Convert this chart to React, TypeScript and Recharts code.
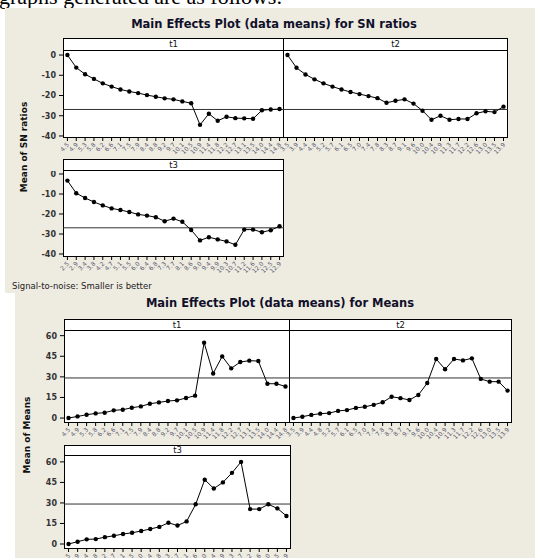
import React from 'react';
import { LineChart, Line, XAxis, YAxis, ReferenceLine } from 'recharts';

// Factor levels (x tick labels) for each panel
const t1Levels = ['4.5', '4.9', '5.3', '5.8', '6.2', '6.6', '7.1', '7.5', '7.9', '8.4', '8.8', '9.2', '9.7', '10.1', '10.5', '10.9', '11.4', '11.8', '12.2', '12.7', '13.1', '13.5', '14.0', '14.4', '14.8'];
const t2Levels = ['3.5', '3.9', '4.4', '4.8', '5.2', '5.7', '6.1', '6.5', '7.0', '7.4', '7.8', '8.3', '8.7', '9.1', '9.6', '10.0', '10.4', '10.9', '11.3', '11.7', '12.2', '12.6', '13.0', '13.5', '13.9'];
const t3Levels = ['2.5', '2.9', '3.4', '3.8', '4.2', '4.7', '5.1', '5.5', '6.0', '6.4', '6.8', '7.3', '7.7', '8.1', '8.6', '9.0', '9.4', '9.9', '10.3', '10.7', '11.2', '11.6', '12.0', '12.5', '12.9'];

// Mean of SN ratios per level
const snT1 = [0, -6.2, -9.5, -11.8, -14, -15.6, -17, -18, -18.8, -19.8, -20.6, -21.4, -21.9, -22.9, -23.8, -34.5, -29, -32.5, -30.5, -31.2, -31.3, -31.5, -27.3, -26.9, -26.7];
const snT2 = [0, -6.3, -9.6, -12, -14, -15.6, -17, -18.3, -19.3, -20.3, -21.3, -23.6, -22.6, -21.9, -24, -27.5, -32, -30, -32, -31.6, -31.6, -28.8, -27.8, -28.2, -25.5];
const snT3 = [-3.3, -9.6, -12, -14, -15.7, -17.2, -18, -19, -20.2, -20.8, -21.6, -23.6, -22.3, -23.9, -28, -33.2, -31.6, -32.7, -33.7, -35.4, -27.8, -27.8, -29.1, -28.1, -26.1];

// Mean of means per level
const meanT1 = [0, 1.2, 2.4, 3.4, 3.9, 5.6, 6.1, 7.5, 8.5, 10.4, 11.4, 12.4, 12.9, 14.6, 16.3, 54.9, 32.5, 44.9, 36.2, 40.8, 41.8, 41.5, 25, 25, 23];
const meanT2 = [0, 1, 2.3, 3.2, 3.6, 5.2, 5.8, 7.4, 8.2, 9.6, 11.5, 15.5, 14.5, 13.2, 16.8, 25.5, 43, 35.5, 43, 42, 43.5, 28.5, 26.5, 26.5, 20];
const meanT3 = [0, 1.7, 3.4, 3.6, 5, 6, 7.3, 8.2, 9.5, 11, 12.5, 15.5, 13.5, 16.5, 29, 47, 40.5, 45, 52, 60, 25.5, 25.5, 29, 26, 20.5];

// Grand means (horizontal reference lines)
const snGrandMean = -26.9;
const meanGrandMean = 29.2;

const snTicks = [0, -10, -20, -30, -40];
const meanTicks = [0, 15, 30, 45, 60];

const FONT = '"DejaVu Sans", Verdana, sans-serif';
const BEIGE = '#EEEBE1';

const RotTick = (props: any) => {
  const { x, y, payload } = props;
  return (
    <text
      x={x}
      y={y}
      dy={3}
      transform={`rotate(-45 ${x} ${y})`}
      textAnchor="end"
      fontSize={6}
      fill="#5a5a70"
      fontFamily={FONT}
    >
      {payload.value}
    </text>
  );
};

type PanelProps = {
  x: number;
  y: number;
  w: number;
  headH: number;
  plotH: number;
  label: string;
  levels: string[];
  values: number[];
  domain: [number, number];
  yTicks: number[];
  refValue: number;
  showY: boolean;
};

function Panel({ x, y, w, headH, plotH, label, levels, values, domain, yTicks, refValue, showY }: PanelProps) {
  const data = levels.map((lvl, i) => ({ lvl, v: values[i] }));
  const AX = 40;
  const XH = 22;
  const pad = w / 50;
  return (
    <>
      <div
        style={{
          position: 'absolute',
          left: x,
          top: y,
          width: w,
          height: headH + plotH,
          border: '1px solid #000',
          boxSizing: 'border-box',
          background: '#fff',
        }}
      />
      <div
        style={{
          position: 'absolute',
          left: x,
          top: y,
          width: w,
          height: headH,
          borderBottom: '1px solid #000',
          boxSizing: 'border-box',
          textAlign: 'center',
          fontFamily: FONT,
          fontSize: 8.5,
          lineHeight: `${headH}px`,
          color: '#111',
        }}
      >
        {label}
      </div>
      <div style={{ position: 'absolute', left: x - AX, top: y + headH, width: w + AX, height: plotH + XH }}>
        <LineChart width={w + AX} height={plotH + XH} data={data} margin={{ top: 0, right: 0, bottom: 0, left: 0 }}>
          <XAxis
            dataKey="lvl"
            interval={0}
            padding={{ left: pad, right: pad }}
            axisLine={false}
            tickLine={{ stroke: '#000' }}
            tickSize={3}
            height={XH}
            tick={<RotTick />}
          />
          <YAxis
            width={AX}
            type="number"
            domain={domain}
            ticks={yTicks}
            interval={0}
            allowDataOverflow
            axisLine={false}
            tickLine={showY ? { stroke: '#000' } : false}
            tick={showY ? { fontSize: 8, fontWeight: 'bold', fill: '#333', fontFamily: FONT } : false}
            tickSize={4}
            tickMargin={3}
          />
          <ReferenceLine y={refValue} stroke="#333" strokeWidth={1} />
          <Line
            type="linear"
            dataKey="v"
            stroke="#000"
            strokeWidth={1}
            dot={{ r: 2.2, fill: '#000', stroke: 'none' }}
            activeDot={false}
            isAnimationActive={false}
          />
        </LineChart>
      </div>
    </>
  );
}

const titleStyle: React.CSSProperties = {
  position: 'absolute',
  fontFamily: FONT,
  fontWeight: 'bold',
  fontSize: 11.5,
  color: '#10102a',
  whiteSpace: 'nowrap',
  transform: 'translate(-50%, -50%)',
};

const yLabelStyle: React.CSSProperties = {
  position: 'absolute',
  fontFamily: FONT,
  fontWeight: 'bold',
  fontSize: 9,
  color: '#111',
  whiteSpace: 'nowrap',
  transform: 'translate(-50%, -50%) rotate(-90deg)',
};

export default function App() {
  return (
    <div style={{ position: 'absolute', left: 0, top: 0, width: 535, height: 558, background: '#fff', overflow: 'hidden' }}>
      <div
        style={{
          position: 'absolute',
          left: -1,
          top: -14,
          fontFamily: '"Liberation Serif", serif',
          fontSize: 22,
          lineHeight: '22px',
          color: '#000',
          whiteSpace: 'nowrap',
        }}
      >
        graphs generated are as follows:
      </div>

      {/* SN ratios plot */}
      <div style={{ position: 'absolute', left: 5, top: 8, width: 530, height: 285, background: BEIGE }} />
      <div style={{ ...titleStyle, left: 274, top: 24 }}>Main Effects Plot (data means) for SN ratios</div>
      <div style={{ ...yLabelStyle, left: 24, top: 147 }}>Mean of SN ratios</div>
      <Panel x={63} y={38} w={221} headH={13} plotH={87} label="t1" levels={t1Levels} values={snT1} domain={[-41, 2]} yTicks={snTicks} refValue={snGrandMean} showY />
      <Panel x={283} y={38} w={225} headH={13} plotH={87} label="t2" levels={t2Levels} values={snT2} domain={[-41, 2]} yTicks={snTicks} refValue={snGrandMean} showY={false} />
      <Panel x={63} y={159} w={221} headH={12} plotH={86} label="t3" levels={t3Levels} values={snT3} domain={[-41.5, 1.5]} yTicks={snTicks} refValue={snGrandMean} showY />
      <div style={{ position: 'absolute', left: 12, top: 281, fontFamily: FONT, fontSize: 8.5, color: '#222', whiteSpace: 'nowrap' }}>
        Signal-to-noise: Smaller is better
      </div>

      {/* Means plot */}
      <div style={{ position: 'absolute', left: 15, top: 293, width: 520, height: 265, background: BEIGE }} />
      <div style={{ ...titleStyle, left: 280, top: 303 }}>Main Effects Plot (data means) for Means</div>
      <div style={{ ...yLabelStyle, left: 27, top: 435 }}>Mean of Means</div>
      <Panel x={64} y={319} w={226} headH={12} plotH={92} label="t1" levels={t1Levels} values={meanT1} domain={[-3.6, 63.4]} yTicks={meanTicks} refValue={meanGrandMean} showY />
      <Panel x={289} y={319} w={223} headH={12} plotH={92} label="t2" levels={t2Levels} values={meanT2} domain={[-3.6, 63.4]} yTicks={meanTicks} refValue={meanGrandMean} showY={false} />
      <Panel x={64} y={445} w={227} headH={11} plotH={93} label="t3" levels={t3Levels} values={meanT3} domain={[-3.65, 64.3]} yTicks={meanTicks} refValue={meanGrandMean} showY />
    </div>
  );
}
